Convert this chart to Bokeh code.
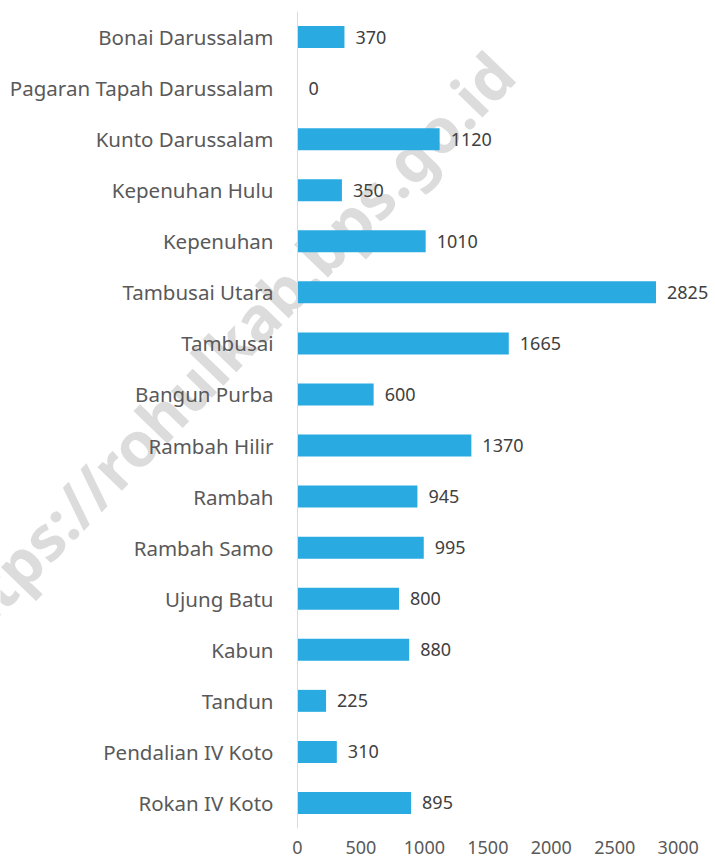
import math
from bokeh.plotting import figure
from bokeh.models import ColumnDataSource, FactorRange, Range1d, FixedTicker, Label
from bokeh.core.properties import value
from bokeh.embed import file_html
from bokeh.resources import INLINE

categories = ["Bonai Darussalam", "Pagaran Tapah Darussalam", "Kunto Darussalam",
              "Kepenuhan Hulu", "Kepenuhan", "Tambusai Utara", "Tambusai",
              "Bangun Purba", "Rambah Hilir", "Rambah", "Rambah Samo",
              "Ujung Batu", "Kabun", "Tandun", "Pendalian IV Koto", "Rokan IV Koto"]
values = [370, 0, 1120, 350, 1010, 2825, 1665, 600, 1370, 945, 995, 800, 880, 225, 310, 895]
x_ticks = [0, 500, 1000, 1500, 2000, 2500, 3000]
watermark_left = "https://rohulkab"
watermark_right = ".bps.go.id"

FONT = "Noto Sans"
PX_PER_UNIT = 0.1269
W, H = 715, 863
AXIS_PX = 297

src = ColumnDataSource(dict(cat=categories, val=values, lab=[str(v) for v in values]))

p = figure(width=W, height=H, output_backend="svg", toolbar_location=None,
           y_range=FactorRange(*reversed(categories)),
           x_range=Range1d(-AXIS_PX / PX_PER_UNIT, (W - AXIS_PX) / PX_PER_UNIT),
           min_border_left=0, min_border_right=0, min_border_top=11, min_border_bottom=35)
p.outline_line_color = None
p.xgrid.visible = False
p.ygrid.visible = False

ang = math.radians(46)
wm_common = dict(x=AXIS_PX - 2, y=552, x_units="screen", y_units="screen", angle=ang,
                 text_baseline="alphabetic", text_font=FONT, text_font_style="bold",
                 text_font_size="62px", text_color="#dcdcdc", level="underlay")
p.add_layout(Label(text=watermark_right, text_align="left", **wm_common))
p.add_layout(Label(text=watermark_left, text_align="right", **wm_common))

p.hbar(y="cat", right="val", left=0, height=0.43, source=src,
       fill_color="#29ABE2", line_color=None)
p.text(x="val", y="cat", text="lab", source=src, x_offset=11,
       text_align="left", text_baseline="middle",
       text_font=value(FONT), text_font_size="18px", text_color="#404040")

p.yaxis.fixed_location = 0
p.yaxis.axis_line_color = "#d9d9d9"
p.yaxis.major_tick_line_color = None
p.yaxis.minor_tick_line_color = None
p.yaxis.major_tick_out = 0
p.yaxis.major_label_standoff = 24
p.yaxis.major_label_text_font = FONT
p.yaxis.major_label_text_font_size = "20.5px"
p.yaxis.major_label_text_color = "#595959"

p.xaxis.ticker = FixedTicker(ticks=x_ticks)
p.xaxis.axis_line_color = None
p.xaxis.major_tick_line_color = None
p.xaxis.minor_tick_line_color = None
p.xaxis.major_tick_out = 0
p.xaxis.major_label_standoff = 12
p.xaxis.major_label_text_font = FONT
p.xaxis.major_label_text_font_size = "18px"
p.xaxis.major_label_text_color = "#595959"

open("out.html", "w").write(file_html(p, INLINE))
